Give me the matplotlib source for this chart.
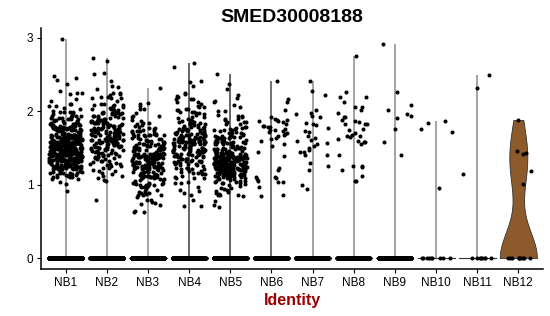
import numpy as np
import matplotlib
matplotlib.use("Agg")
import matplotlib.pyplot as plt

plt.rcParams['font.family'] = ['Liberation Sans', 'DejaVu Sans']

# ---------------- data ----------------
clusters = ["NB1", "NB2", "NB3", "NB4", "NB5", "NB6",
            "NB7", "NB8", "NB9", "NB10", "NB11", "NB12"]
title = "SMED30008188"
x_label = "Identity"
y_ticks = [0, 1, 2, 3]

# dense clusters: counts of non-zero cells per 0.1 bin (0.6 .. 2.3) + explicit outliers
bin_edges = [0.6, 0.7, 0.8, 0.9, 1.0, 1.1, 1.2, 1.3, 1.4, 1.5, 1.6,
             1.7, 1.8, 1.9, 2.0, 2.1, 2.2, 2.3]
NB1_counts = [0, 0, 0, 1, 5, 20, 45, 60, 70, 60, 45, 30, 20, 15, 6, 3, 3]
NB2_counts = [0, 1, 0, 0, 3, 6, 10, 14, 20, 25, 30, 30, 25, 18, 12, 8, 5]
NB3_counts = [3, 6, 8, 12, 16, 25, 35, 40, 30, 22, 18, 12, 6, 4, 4, 1, 0]
NB4_counts = [0, 3, 2, 3, 6, 10, 14, 22, 30, 32, 28, 20, 14, 10, 8, 6, 3]
NB5_counts = [0, 3, 6, 8, 15, 40, 65, 55, 35, 22, 18, 14, 8, 5, 3, 3, 1]
NB1_extra = [2.98, 2.48, 2.45, 2.43, 2.37, 2.25]
NB2_extra = [2.72, 2.68, 2.52, 2.50, 2.41, 2.35, 2.33]
NB3_extra = [2.32]
NB4_extra = [2.66, 2.60, 2.41, 2.40, 2.35]
NB5_extra = [2.50, 2.37, 2.30]

# sparse clusters: individual non-zero values
NB6_values = [2.41, 2.17, 2.12, 2.01, 1.92, 1.89, 1.88, 1.88, 1.87, 1.86, 1.85,
              1.82, 1.80, 1.80, 1.79, 1.78, 1.76, 1.75, 1.75, 1.73, 1.72, 1.70,
              1.69, 1.68, 1.66, 1.64, 1.62, 1.60, 1.56, 1.52, 1.45, 1.39, 1.23,
              1.20, 1.11, 1.11, 1.09, 1.07, 1.05, 1.03, 1.03, 0.97, 0.86, 0.84]
NB7_values = [2.41, 2.27, 2.22, 2.01, 1.98, 1.96, 1.94, 1.92, 1.84, 1.83, 1.81,
              1.77, 1.73, 1.71, 1.66, 1.64, 1.61, 1.59, 1.57, 1.55, 1.52, 1.50,
              1.47, 1.45, 1.44, 1.40, 1.40, 1.30, 1.26, 1.20, 0.99, 0.94]
NB8_values = [2.75, 2.26, 2.20, 2.20, 2.13, 2.06, 2.06, 2.02, 1.97, 1.92, 1.92,
              1.88, 1.86, 1.85, 1.83, 1.83, 1.82, 1.76, 1.74, 1.70, 1.68, 1.66,
              1.66, 1.65, 1.62, 1.60, 1.58, 1.58, 1.56, 1.40, 1.26, 1.25, 1.24,
              1.20, 1.12, 1.05, 1.05]
NB9_values = [2.92, 2.26, 2.08, 2.01, 1.96, 1.94, 1.91, 1.76, 1.58, 1.40]
NB10_values = [1.87, 1.84, 1.76, 1.72, 0.95]
NB11_values = [2.49, 2.31, 1.15]
NB12_values = [1.88, 1.46, 1.43, 1.42, 1.19, 1.01]

# number of cells with zero expression per cluster
zero_counts = [900, 800, 800, 750, 800, 350, 350, 300, 250, 9, 8, 10]

# ---------------- styles ----------------
violin_line_colors = ["#8a8a8a", "#8a8a8a", "#8a8a8a", "#3c3c3c", "#3c3c3c", "#4a4a4a",
                      "#8a8a8a", "#8a8a8a", "#8a8a8a", "#8a8a8a", "#8a8a8a", "#8a8a8a"]
nb12_fill = "#8C5A2B"
label_red = "#9B0000"


def hashu(idx, seed):
    """deterministic scatter in [0, 1) used for the jitter only"""
    v = np.sin(np.asarray(idx, dtype=float) * 12.9898 + seed * 78.233) * 43758.5453
    return v - np.floor(v)


def expand_bins(counts, extra, seed):
    vals = []
    k = 0
    for i, c in enumerate(counts):
        lo, hi = bin_edges[i], bin_edges[i + 1]
        for _ in range(c):
            vals.append(lo + float(hashu(k, seed + 101)) * (hi - lo))
            k += 1
    return vals + list(extra)


nonzero = [
    expand_bins(NB1_counts, NB1_extra, 1),
    expand_bins(NB2_counts, NB2_extra, 2),
    expand_bins(NB3_counts, NB3_extra, 3),
    expand_bins(NB4_counts, NB4_extra, 4),
    expand_bins(NB5_counts, NB5_extra, 5),
    NB6_values, NB7_values, NB8_values, NB9_values,
    NB10_values, NB11_values, NB12_values,
]
data = [np.array([0.0] * z + list(v)) for z, v in zip(zero_counts, nonzero)]


def bw_nrd0(x):
    hi = np.std(x, ddof=1)
    q75, q25 = np.percentile(x, [75, 25])
    lo = min(hi, (q75 - q25) / 1.34)
    if lo == 0:
        lo = hi
    return 0.9 * lo * len(x) ** (-0.2)


# ---------------- figure ----------------
fig = plt.figure(figsize=(5.5, 3.16), dpi=100)
ax = fig.add_axes([41 / 550, 1 - 269 / 316, (543 - 41) / 550, (269 - 28.3) / 316])

positions = np.arange(1, len(clusters) + 1)
half = 0.45
jit = 0.4

for i, (pos, vals) in enumerate(zip(positions, data)):
    vmax = vals.max()
    if i == len(clusters) - 1:
        # real violin (scale = width, trimmed)
        bw = bw_nrd0(vals)
        grid = np.linspace(vals.min(), vmax, 300)
        dens = np.exp(-0.5 * ((grid[:, None] - vals[None, :]) / bw) ** 2).sum(axis=1)
        w = half * dens / dens.max()
        ax.fill_betweenx(grid, pos - w, pos + w, facecolor=nb12_fill,
                         edgecolor="#333333", linewidth=0.6, zorder=1)
    else:
        ax.plot([pos, pos], [0, vmax], color=violin_line_colors[i], lw=1.1,
                solid_capstyle="butt", zorder=1)
        ax.plot([pos - half, pos + half], [0, 0], color="#333333", lw=0.8, zorder=1)
    n = len(vals)
    xs = pos + 2 * jit * (hashu(np.arange(n), i + 17) - 0.5)
    ax.scatter(xs, vals, s=8.5, c="black", linewidths=0, zorder=2)

ymax = max(d.max() for d in data)
ax.set_xlim(0.4, len(clusters) + 0.6)
ax.set_ylim(-0.05 * ymax, ymax * 1.05)
ax.set_xticks(positions)
ax.set_xticklabels(clusters)
ax.set_yticks(y_ticks)
ax.tick_params(axis="both", labelsize=8.5, length=3, width=0.8, pad=2.5,
               colors="black")
for s in ["top", "right"]:
    ax.spines[s].set_visible(False)
for s in ["left", "bottom"]:
    ax.spines[s].set_linewidth(1.1)

ax.set_title(title, fontsize=14, fontweight="bold", pad=4.5)
ax.set_xlabel(x_label, fontsize=11.5, fontweight="bold", color=label_red, labelpad=3)

fig.savefig("out.png", dpi=100)
